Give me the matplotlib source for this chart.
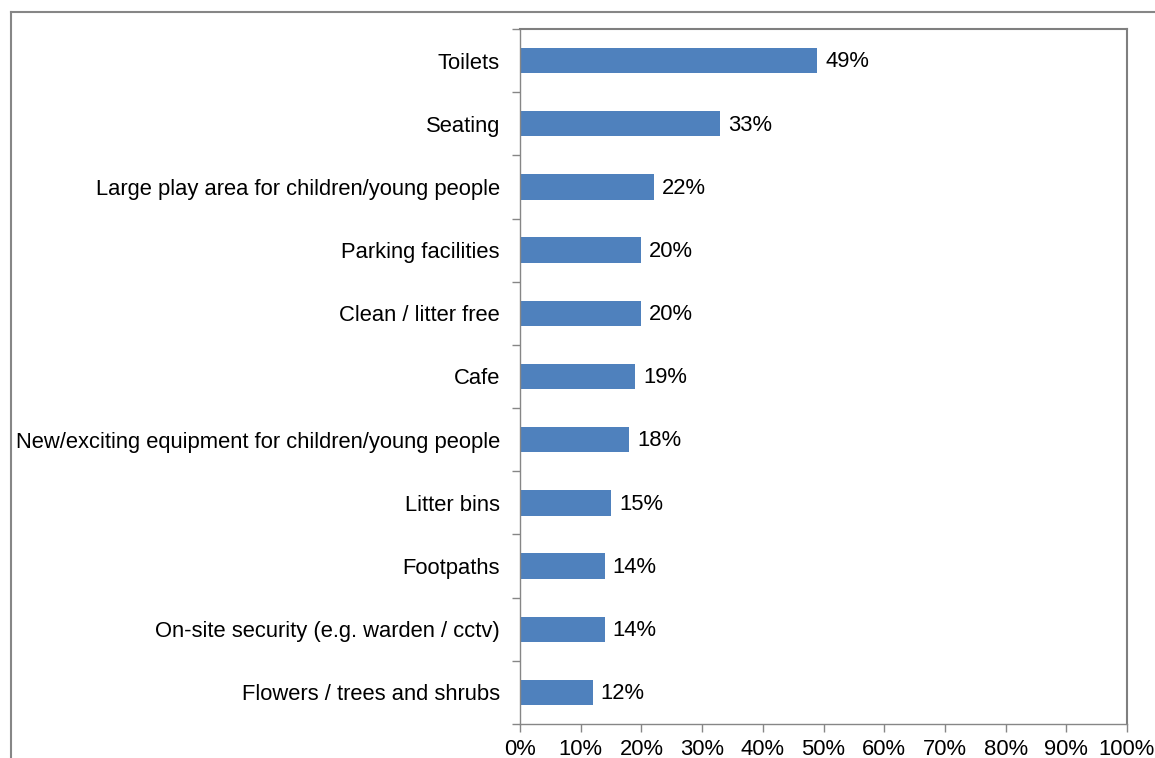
import matplotlib.pyplot as plt
import numpy as np
from matplotlib.lines import Line2D
from matplotlib.ticker import FixedLocator, PercentFormatter

plt.rcParams['font.family'] = ['Liberation Sans', 'DejaVu Sans']

categorias = ['Toilets', 'Seating', 'Large play area for children/young people',
              'Parking facilities', 'Clean / litter free', 'Cafe',
              'New/exciting equipment for children/young people', 'Litter bins',
              'Footpaths', 'On-site security (e.g. warden / cctv)',
              'Flowers / trees and shrubs']
valores = [49, 33, 22, 20, 20, 19, 18, 15, 14, 14, 12]

cor_barra = '#4F81BD'
cor_eixo = '#868686'
tam_fonte = 15.8

fig = plt.figure(figsize=(11.55, 7.58), dpi=100)
ax = fig.add_axes([520 / 1155, 1 - 724 / 758, 607 / 1155, 695 / 758])

# moldura externa do gráfico (só esquerda e topo aparecem)
fig.add_artist(Line2D([11 / 1155, 11 / 1155], [0, 1 - 12 / 758],
                      transform=fig.transFigure, color=cor_eixo, lw=1.5))
fig.add_artist(Line2D([11 / 1155, 1], [1 - 12 / 758, 1 - 12 / 758],
                      transform=fig.transFigure, color=cor_eixo, lw=1.5))

y = np.arange(len(categorias))
ax.barh(y, valores, height=0.4, color=cor_barra)

for yi, v in zip(y, valores):
    ax.text(v + 1.3, yi + 0.02, f'{v}%', va='center', ha='left', fontsize=tam_fonte)

ax.set_xlim(0, 100)
ax.set_ylim(len(categorias) - 0.5, -0.5)
ax.set_xticks(np.arange(0, 101, 10))
ax.xaxis.set_major_formatter(PercentFormatter(decimals=0))

ax.set_yticks(y)
ax.set_yticklabels(categorias)
ax.yaxis.set_minor_locator(FixedLocator(np.arange(-0.5, len(categorias), 1)))
ax.tick_params(axis='y', which='major', length=0, pad=14.5, labelsize=tam_fonte)
ax.tick_params(axis='y', which='minor', length=6, width=1, color=cor_eixo, direction='out')
ax.tick_params(axis='x', length=6, width=1, color=cor_eixo, direction='out',
               pad=4.5, labelsize=tam_fonte)

for lado in ['left', 'bottom']:
    ax.spines[lado].set_color(cor_eixo)
    ax.spines[lado].set_linewidth(1)
for lado in ['top', 'right']:
    ax.spines[lado].set_color('#7f7f7f')
    ax.spines[lado].set_linewidth(1.5)

fig.savefig('out.png', dpi=100, facecolor='white')
